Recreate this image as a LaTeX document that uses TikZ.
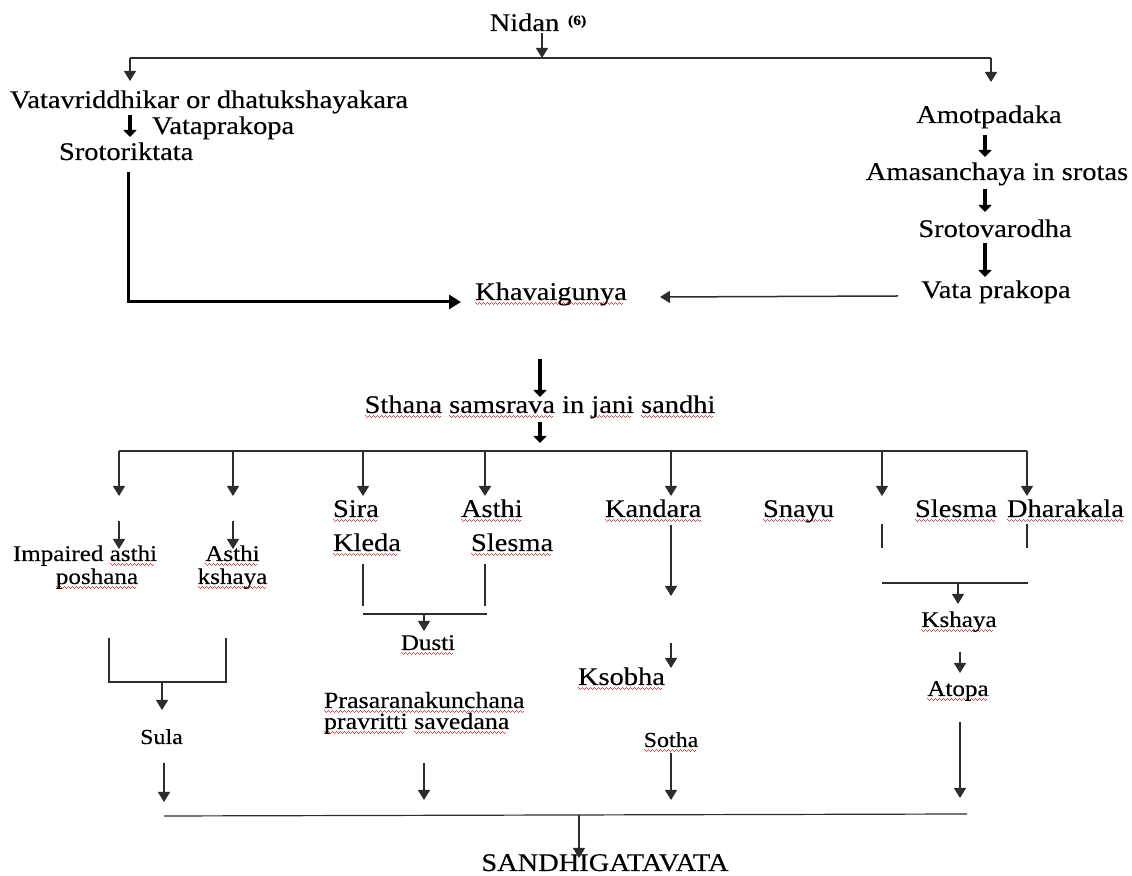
\documentclass[tikz,border=0pt]{standalone}
\usepackage{fontspec}
\setmainfont{Liberation Serif}[FakeStretch=1.12,FakeBold=0.3]
\usetikzlibrary{arrows.meta}
\definecolor{sqred}{RGB}{228,70,70}
\definecolor{ln}{RGB}{45,45,45}
\newsavebox\sqbox
\newcommand\wavebit{\rule[-1.7pt]{0.5pt}{0.5pt}\rule[-2.1pt]{0.5pt}{0.5pt}\rule[-2.5pt]{0.5pt}{0.5pt}\rule[-2.1pt]{0.5pt}{0.5pt}}
\newcommand\sq[1]{\leavevmode\sbox\sqbox{#1}\rlap{\textcolor{sqred}{\leaders\hbox{\wavebit}\hskip\wd\sqbox}}\usebox{\sqbox}}
\begin{document}
\begin{tikzpicture}[x=0.5pt,y=-0.5pt,
  every node/.style={inner sep=0pt,outer sep=0pt},
  big/.style={font=\fontsize{12.7}{14}\selectfont,anchor=base},
  bigl/.style={big,anchor=base west},
  sm/.style={font=\fontsize{11.2}{13}\selectfont,anchor=base},
  thinln/.style={draw=ln,line width=0.6pt},
  arr/.style={thinln,-{Triangle[width=6pt,length=5pt]}},
  fat/.style={draw=black,line width=2pt,-{Triangle[width=6.5pt,length=3.5pt]}}]
\useasboundingbox (0,0) rectangle (1132,876);

% ---------- texts ----------
\node[big] (nidan) at (524.5,31) {Nidan};
\node[anchor=base west,font=\fontsize{7}{8}\selectfont\bfseries] (ref) at (568,25) {(6)};
\node[big] (vatav) at (209,108) {Vatavriddhikar or dhatukshayakara};
\node[bigl] (vatapr) at (152,134) {Vataprakopa};
\node[bigl] (sroto) at (59,160) {Srotoriktata};
\node[big] (amot) at (989,123) {Amotpadaka};
\node[big] (amas) at (997,180) {Amasanchaya in srotas};
\node[big] (srotov) at (995,237) {Srotovarodha};
\node[big] (vatap) at (996,298) {Vata prakopa};
\node[big] (khav) at (551,300) {\sq{Khavaigunya}};
\node[big] (sthana) at (540,413) {\sq{Sthana} \sq{samsrava} in \sq{jani} \sq{sandhi}};

\node[bigl] (sira) at (333,517) {\sq{Sira}};
\node[bigl] (asthi) at (461,517) {\sq{Asthi}};
\node[bigl] (kandara) at (605,517) {\sq{Kandara}};
\node[bigl] (snayu) at (763,517) {\sq{Snayu}};
\node[bigl] (slesma) at (915,517) {\sq{Slesma}};
\node[bigl] (dhara) at (1007,517) {\sq{Dharakala}};
\node[bigl] (kleda) at (333,551) {\sq{Kleda}};
\node[bigl] (slesma2) at (471,551) {\sq{Slesma}};

\node[sm] (imp) at (85,561) {Impaired \sq{asthi}};
\node[sm] (posh) at (97,584) {\sq{poshana}};
\node[sm] (asthi2) at (232.5,561) {\sq{Asthi}};
\node[sm] (ksh) at (232.5,584) {\sq{kshaya}};
\node[sm] (dusti) at (428,650) {\sq{Dusti}};
\node[sm,font=\fontsize{10.7}{12}\selectfont] (sula) at (161.5,744) {Sula};
\node[sm,anchor=base west,font=\fontsize{11.6}{13}\selectfont] (pras1) at (324,708) {\sq{Prasaranakunchana}};
\node[sm,anchor=base west,font=\fontsize{11.6}{13}\selectfont] (pras2) at (324,729) {\sq{pravritti} \sq{savedana}};
\node[bigl] (ksobha) at (578,685) {\sq{Ksobha}};
\node[sm,font=\fontsize{10.7}{12}\selectfont] (sotha) at (671,747) {\sq{Sotha}};
\node[sm] (kshaya) at (959,627) {\sq{Kshaya}};
\node[sm] (atopa) at (958,696) {\sq{Atopa}};
\node[big] (sandhi) at (605,871) {SANDHIGATAVATA};

% ---------- coordinates ----------
\coordinate (nA) at (542,33);   \coordinate (nB) at (542,58);
\coordinate (barL) at (130,58); \coordinate (barR) at (991,58);
\coordinate (lT) at (130,81);   \coordinate (rT) at (991,82);
\coordinate (f1a) at (130,115); \coordinate (f1b) at (130,137);
\coordinate (f2a) at (985,135); \coordinate (f2b) at (985,157);
\coordinate (f3a) at (985,189); \coordinate (f3b) at (985,212);
\coordinate (f4a) at (985,243); \coordinate (f4b) at (985,277);
\coordinate (La) at (128,172);  \coordinate (Lc) at (128,302); \coordinate (Lb) at (461,302);
\coordinate (vA) at (898,296);  \coordinate (vB) at (660,297);
\coordinate (f5a) at (540,359); \coordinate (f5b) at (540,397);
\coordinate (f6a) at (540,422); \coordinate (f6b) at (540,443);
\foreach \i/\x in {1/119,2/233,3/363,4/485,5/671,6/882,7/1027}{
  \coordinate (m\i) at (\x,451); \coordinate (t\i) at (\x,496);}
\coordinate (s1a) at (119,521); \coordinate (s1b) at (119,549);
\coordinate (s2a) at (233,521); \coordinate (s2b) at (233,549);
\coordinate (b1a) at (363,564); \coordinate (b1b) at (363,606);
\coordinate (b2a) at (485,564); \coordinate (b2b) at (485,606);
\coordinate (b3a) at (363,614); \coordinate (b3b) at (487,614);
\coordinate (b4a) at (424,614); \coordinate (b4b) at (424,631);
\coordinate (k1a) at (671,525); \coordinate (k1b) at (671,596);
\coordinate (k2a) at (671,643); \coordinate (k2b) at (671,668);
\coordinate (k3a) at (671,753); \coordinate (k3b) at (671,800);
\coordinate (r1a) at (882,524); \coordinate (r1b) at (882,548);
\coordinate (r2a) at (1027,524); \coordinate (r2b) at (1027,548);
\coordinate (r3a) at (882,583); \coordinate (r3b) at (1028,583);
\coordinate (r4a) at (958,583); \coordinate (r4b) at (958,604);
\coordinate (r5a) at (960,652); \coordinate (r5b) at (960,673);
\coordinate (r6a) at (960,722); \coordinate (r6b) at (960,798);
\coordinate (q1) at (109,638); \coordinate (q2) at (109,682);
\coordinate (q3) at (226,682); \coordinate (q4) at (226,638);
\coordinate (q5) at (162,682); \coordinate (q6) at (162,710);
\coordinate (u1a) at (164,763); \coordinate (u1b) at (164,802);
\coordinate (p1a) at (424,763); \coordinate (p1b) at (424,800);
\coordinate (botL) at (164,816); \coordinate (botR) at (967,814);
\coordinate (fa) at (579,815); \coordinate (fb) at (579,858);

% ---------- connectors ----------
\draw[thinln] (barL) -- (barR);
\draw[arr] (nA) -- (nB);
\draw[arr] (barL) -- (lT);
\draw[arr] (barR) -- (rT);
\draw[fat] (f1a) -- (f1b);
\draw[fat] (f2a) -- (f2b);
\draw[fat] (f3a) -- (f3b);
\draw[fat] (f4a) -- (f4b);
\draw[draw=black,line width=1.5pt,-{Triangle[width=7pt,length=6pt]}] (La) -- (Lc) -- (Lb);
\draw[arr,line width=0.75pt] (vA) -- (vB);
\draw[fat] (f5a) -- (f5b);
\draw[fat] (f6a) -- (f6b);
\draw[thinln] (m1) -- (m7);
\foreach \i in {1,2,3,5,6,7}{\draw[arr] (m\i) -- (t\i);}
\draw[arr,line width=1pt] (m4) -- (t4);
\draw[arr] (s1a) -- (s1b);
\draw[arr] (s2a) -- (s2b);
\draw[thinln] (b1a) -- (b1b);
\draw[thinln] (b2a) -- (b2b);
\draw[thinln] (b3a) -- (b3b);
\draw[arr] (b4a) -- (b4b);
\draw[arr] (k1a) -- (k1b);
\draw[arr] (k2a) -- (k2b);
\draw[arr] (k3a) -- (k3b);
\draw[thinln] (r1a) -- (r1b);
\draw[thinln] (r2a) -- (r2b);
\draw[thinln] (r3a) -- (r3b);
\draw[arr] (r4a) -- (r4b);
\draw[arr] (r5a) -- (r5b);
\draw[arr] (r6a) -- (r6b);
\draw[thinln] (q1) -- (q2) -- (q3) -- (q4);
\draw[arr] (q5) -- (q6);
\draw[arr] (u1a) -- (u1b);
\draw[arr] (p1a) -- (p1b);
\draw[thinln] (botL) -- (botR);
\draw[arr] (fa) -- (fb);
\end{tikzpicture}
\end{document}
